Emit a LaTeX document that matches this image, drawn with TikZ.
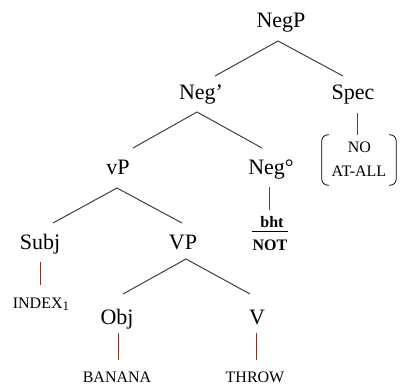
\documentclass[tikz,border=0pt]{standalone}
\usepackage{fontspec}
\setmainfont{Liberation Serif}
\definecolor{branchgray}{RGB}{64,64,64}
\definecolor{unaryred}{RGB}{140,50,35}
\begin{document}
\begin{tikzpicture}[x=1pt,y=-1pt,
  cat/.style={anchor=base,inner sep=0pt,font=\fontsize{22}{24}\selectfont},
  leaf/.style={anchor=base,inner sep=0pt,font=\fontsize{16}{18}\selectfont},
  boldleaf/.style={leaf,font=\fontsize{16}{18}\selectfont\bfseries},
  branch/.style={draw=branchgray,line width=1pt},
  unary/.style={draw=unaryred,line width=0.9pt}]
\useasboundingbox (0,0) rectangle (400,385);
% category nodes
\node[cat] (NegP) at (281,28) {NegP};
\node[cat] (Negbar) at (201,100) {Neg’};
\node[cat] (Spec) at (353,100) {Spec};
\node[cat] (vP) at (118,175) {vP};
\node[cat] (Nego) at (271,175) {Neg°};
\node[cat] (Subj) at (40,250) {Subj};
\node[cat] (VP) at (183,250) {VP};
\node[cat] (Obj) at (117,325) {Obj};
\node[cat] (V) at (257,325) {V};
% leaves
\node[leaf] (INDEX) at (41,309) {INDEX\raisebox{-2pt}{\fontsize{13}{13}\selectfont 1}};
\node[leaf] (BANANA) at (117,383) {BANANA};
\node[leaf] (THROW) at (255,383) {THROW};
\node[boldleaf] (bht) at (272,228) {bht};
\node[boldleaf,text height=11pt] (NOT) at (270,251) {NOT};
\node[leaf] (NO) at (359.5,153) {NO};
\node[leaf] (ATALL) at (359,177) {AT-ALL};
\node[inner sep=0pt,minimum width=74pt,minimum height=50pt] (brk) at (359,160) {};
% brackets
\draw[line width=0.8pt,rounded corners=6pt] ([xshift=7pt]brk.north west) -- (brk.north west) -- (brk.south west) -- ([xshift=7pt]brk.south west);
\draw[line width=0.8pt,rounded corners=6pt] ([xshift=-7pt]brk.north east) -- (brk.north east) -- (brk.south east) -- ([xshift=-7pt]brk.south east);
% fraction rule
\draw[line width=0.9pt] ([yshift=8pt]NOT.north west) -- ([yshift=8pt]NOT.north east);
% branches
\draw[branch] ([shift={(14,-24)}]Negbar.base) -- ([shift={(-3,13)}]NegP.base) -- ([shift={(-10,-24)}]Spec.base);
\draw[branch] ([shift={(15,-27)}]vP.base) -- ([shift={(-4,12)}]Negbar.base) -- ([shift={(-9,-27)}]Nego.base);
\draw[branch] ([shift={(13,-27)}]Subj.base) -- ([shift={(-1,13)}]vP.base) -- ([shift={(-1,-27)}]VP.base);
\draw[branch] ([shift={(6,-31)}]Obj.base) -- ([shift={(3,9)}]VP.base) -- ([shift={(-7,-31)}]V.base);
% unary lines
\draw[unary] ([shift={(4,13)}]Spec.base) -- ([shift={(-2,0)}]brk.north);
\draw[unary] ([shift={(-2,12)}]Nego.base) -- ([shift={(-3,-18)}]bht.base);
\draw[unary] ([shift={(0,12)}]Subj.base) -- ([shift={(-1,-24)}]INDEX.base);
\draw[unary] ([shift={(1,8)}]Obj.base) -- ([shift={(1,-23)}]BANANA.base);
\draw[unary] ([shift={(-1,8)}]V.base) -- ([shift={(1,-23)}]THROW.base);
\end{tikzpicture}
\end{document}
